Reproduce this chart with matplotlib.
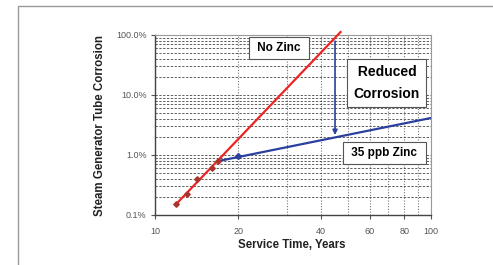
import numpy as np
import matplotlib
matplotlib.use("Agg")
import matplotlib.pyplot as plt
from matplotlib.patches import Rectangle
from matplotlib.ticker import FixedLocator, FixedFormatter, NullFormatter

plt.rcParams['font.family'] = ['Liberation Sans', 'DejaVu Sans']

# no zinc: measured points and trend line
nozinc_t = [11.9, 13.1, 14.2, 16.1, 16.9]
nozinc_c = [0.152, 0.224, 0.398, 0.606, 0.794]
nozinc_fit_t = [11.9, 47.0]
nozinc_fit_c = [0.15, 112.0]

# 35 ppb zinc
zinc_t = [20.0]
zinc_c = [0.97]
zinc_fit_t = [16.9, 100.0]
zinc_fit_c = [0.79, 4.14]

# reduction arrow
arrow_t = 44.9
arrow_top = 79.0
arrow_bottom = 2.15

xticks = [10, 20, 40, 60, 80, 100]
xgrid = [20, 30, 40, 50, 60, 70, 80, 90]
yticks = [0.1, 1.0, 10.0, 100.0]
ylabels = ['0.1%', '1.0%', '10.0%', '100.0%']

fig = plt.figure(figsize=(4.93, 2.65), dpi=100)
fig.patches.append(Rectangle((18 / 493, -0.1), 1.2, 0.1 + 1 - 6 / 265,
                             transform=fig.transFigure, fill=False,
                             edgecolor='#9a9a9a', linewidth=1.0))

ax = fig.add_axes([155 / 493, 1 - 215 / 265, 276 / 493, 180 / 265])
ax.set_xscale('log')
ax.set_yscale('log')
ax.set_xlim(10, 100)
ax.set_ylim(0.1, 100)

# grid
ax.yaxis.set_major_locator(FixedLocator(yticks))
ax.yaxis.set_major_formatter(FixedFormatter(ylabels))
ax.yaxis.set_minor_formatter(NullFormatter())
ax.xaxis.set_major_locator(FixedLocator(xticks))
ax.xaxis.set_major_formatter(FixedFormatter([str(v) for v in xticks]))
ax.xaxis.set_minor_locator(FixedLocator(xgrid))
ax.xaxis.set_minor_formatter(NullFormatter())
ax.grid(True, axis='y', which='both', linestyle=(0, (3, 2)), color='#333333', linewidth=0.55)
ax.grid(True, axis='x', which='both', linestyle=(0, (1, 1.5)), color='#777777', linewidth=0.8)
ax.tick_params(axis='x', which='minor', length=0)
ax.tick_params(axis='y', which='minor', length=0)
ax.tick_params(which='major', length=3, width=0.8, color='#555555',
               labelsize=6.5, labelcolor='#555555', pad=3)
ax.tick_params(axis='x', pad=6)

for s in ['top', 'right']:
    ax.spines[s].set_color('#999999')
for s in ['left', 'bottom']:
    ax.spines[s].set_color('#444444')
    ax.spines[s].set_linewidth(1.0)

ax.plot(nozinc_fit_t, nozinc_fit_c, color='#ee2424', linewidth=1.6, clip_on=False, zorder=3)
ax.plot(nozinc_t, nozinc_c, linestyle='none', marker='D', markersize=2.8,
        color='#a8342c', zorder=4)
ax.plot(zinc_fit_t, zinc_fit_c, color='#2b3f9c', linewidth=1.6, zorder=3)
ax.plot(zinc_t, zinc_c, linestyle='none', marker='D', markersize=3,
        color='#2b3f9c', zorder=4)

ax.annotate('', xy=(arrow_t, arrow_bottom), xytext=(arrow_t, arrow_top),
            arrowprops=dict(arrowstyle='-|>', color='#2b3f9c', lw=1.2,
                            mutation_scale=7, shrinkA=0, shrinkB=0))

box = dict(boxstyle='square,pad=0.45', facecolor='white', edgecolor='#555555', linewidth=0.8)
ax.text(28.1, 60.7, ' No Zinc ', fontsize=8.5, fontweight='bold', ha='center', va='center',
        bbox=box, zorder=5)
ax.text(69.2, 15.8, ' Reduced \nCorrosion', fontsize=10, fontweight='bold', ha='center',
        va='center', linespacing=1.75,
        bbox=dict(boxstyle='square,pad=0.45', facecolor='white',
                  edgecolor='#555555', linewidth=0.8), zorder=5)
ax.text(67.6, 1.08, ' 35 ppb Zinc ', fontsize=8.5, fontweight='bold', ha='center', va='center',
        bbox=box, zorder=5)

fig.text(100 / 493, 1 - 125 / 265, 'Steam Generator Tube Corrosion', rotation=90,
         fontsize=8.3, fontweight='bold', ha='center', va='center', color='#222222')
fig.text(292 / 493, 1 - 245 / 265, 'Service Time, Years',
         fontsize=8.3, fontweight='bold', ha='center', va='center', color='#222222')

fig.savefig('out.png', dpi=100)
